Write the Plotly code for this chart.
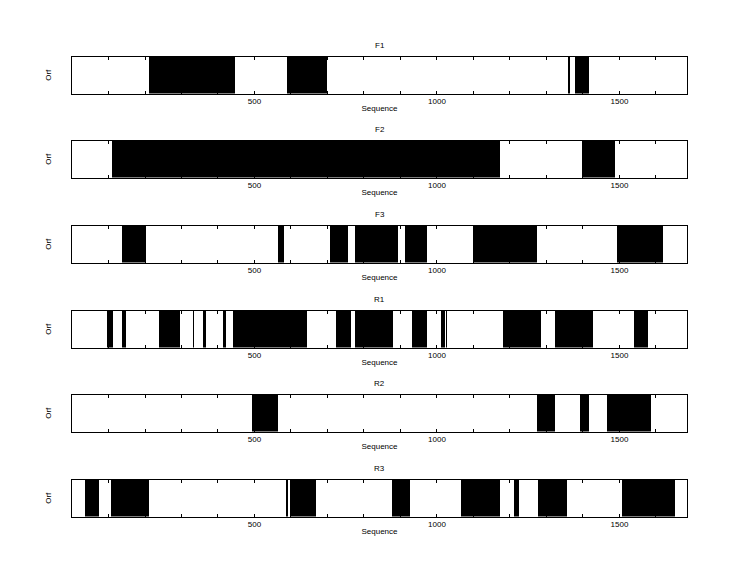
import plotly.graph_objects as go

# ORF segments per reading frame: (start, end) along the sequence
seq_length = 1685
frame_names = ['F1', 'F2', 'F3', 'R1', 'R2', 'R3']
tick_labels = [500, 1000, 1500]

orf_f1 = [(212, 447), (590, 700), (1361, 1363), (1379, 1417)]
orf_f2 = [(110, 1173), (1396, 1489)]
orf_f3 = [(138, 203), (565, 581), (708, 756), (776, 892), (913, 973),
          (1100, 1274), (1493, 1618)]
orf_r1 = [(97, 113), (138, 149), (239, 296), (332, 334), (359, 367),
          (414, 423), (442, 644), (724, 765), (776, 879), (932, 973),
          (1011, 1022), (1025, 1027), (1182, 1286), (1324, 1428), (1539, 1579)]
orf_r2 = [(492, 564), (1275, 1323), (1393, 1417), (1467, 1587)]
orf_r3 = [(36, 75), (108, 211), (587, 590), (596, 668), (878, 927),
          (1065, 1173), (1212, 1225), (1278, 1356), (1508, 1653)]

orfs = [orf_f1, orf_f2, orf_f3, orf_r1, orf_r2, orf_r3]

W, H = 744, 575
# the page body adds an 8px offset, so positions are given 8px up/left
panel_tops = [49, 133, 218, 303, 387, 472]   # px from top of figure
panel_h = 36.5
x_left, x_right = 64, 679

FONT = dict(family='Liberation Sans, Arial, sans-serif', size=8, color='black')

fig = go.Figure()
annotations = []
for i, (name, segs) in enumerate(zip(frame_names, orfs)):
    n = i + 1
    xa = 'x' if n == 1 else f'x{n}'
    ya = 'y' if n == 1 else f'y{n}'
    starts = [s for s, e in segs]
    widths = [e - s for s, e in segs]
    fig.add_trace(go.Bar(
        orientation='h', y=[0] * len(segs), x=widths, base=starts,
        width=1, marker=dict(color='black', line=dict(width=0)),
        xaxis=xa, yaxis=ya, showlegend=False, hoverinfo='skip',
    ))

    top = panel_tops[i]
    dom_y = [(H - top - panel_h) / H, (H - top) / H]
    xkey = 'xaxis' if n == 1 else f'xaxis{n}'
    ykey = 'yaxis' if n == 1 else f'yaxis{n}'
    fig.layout[xkey] = dict(
        domain=[x_left / W, x_right / W], anchor=ya, range=[0, seq_length],
        tickmode='array', tickvals=tick_labels,
        ticks='inside', ticklen=3, tickcolor='black',
        minor=dict(tick0=0, dtick=100, ticks='inside', ticklen=3,
                   tickcolor='black', showgrid=False),
        showline=True, linecolor='black', linewidth=1, mirror='allticks',
        showgrid=False, zeroline=False, tickfont=FONT,
        title=dict(text='Sequence', font=FONT, standoff=0),
        fixedrange=True,
    )
    fig.layout[ykey] = dict(
        domain=dom_y, anchor=xa, range=[-0.5, 0.5],
        showticklabels=False, ticks='', showgrid=False, zeroline=False,
        showline=True, linecolor='black', linewidth=1, mirror=True,
        title=dict(text='Orf', font=FONT, standoff=18),
        fixedrange=True,
    )
    annotations.append(dict(
        text=name, x=(x_left + x_right) / 2 / W, y=dom_y[1],
        xref='paper', yref='paper', xanchor='center', yanchor='bottom',
        yshift=5, showarrow=False, font=FONT,
    ))

fig.update_layout(
    width=W, height=H,
    margin=dict(l=0, r=0, t=0, b=0),
    paper_bgcolor='white', plot_bgcolor='white',
    barmode='overlay', bargap=0,
    annotations=annotations,
)

fig.write_html('out.html')
